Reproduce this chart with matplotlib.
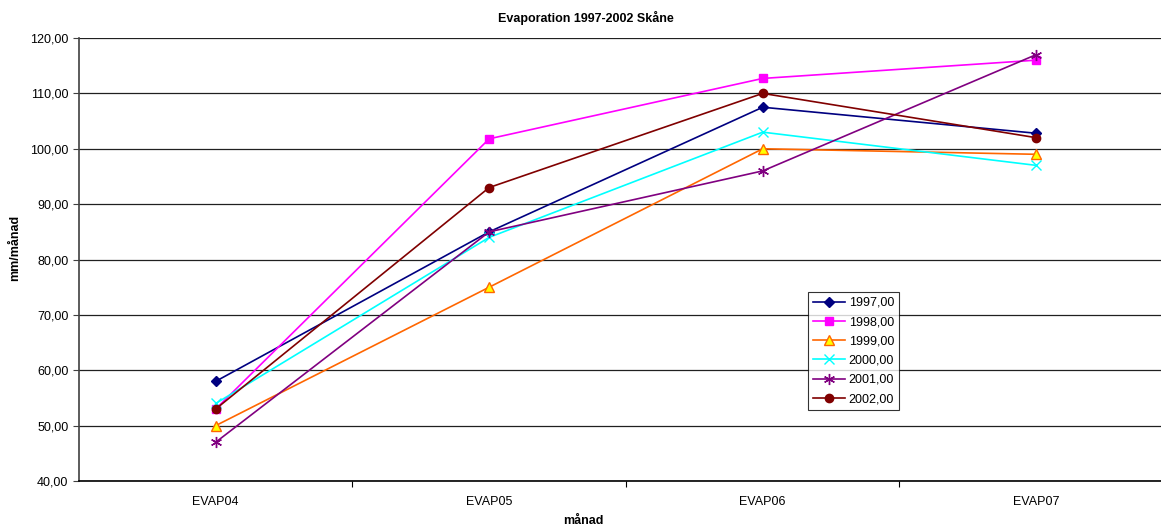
import matplotlib
matplotlib.use("Agg")
import matplotlib.pyplot as plt

plt.rcParams['font.family'] = ['Liberation Sans', 'DejaVu Sans']

months = ['EVAP04', 'EVAP05', 'EVAP06', 'EVAP07']
years = ['1997,00', '1998,00', '1999,00', '2000,00', '2001,00', '2002,00']

evap_1997 = [58.0, 85.0, 107.5, 102.8]
evap_1998 = [53.0, 101.8, 112.7, 116.0]
evap_1999 = [50.0, 75.0, 100.0, 99.0]
evap_2000 = [54.0, 84.0, 103.0, 97.0]
evap_2001 = [47.0, 85.0, 96.0, 117.0]
evap_2002 = [53.0, 93.0, 110.0, 102.0]

series = [evap_1997, evap_1998, evap_1999, evap_2000, evap_2001, evap_2002]

# colour, marker, marker face, size
styles = [
    ('#000080', 'D', '#000080', 5),
    ('#FF00FF', 's', '#FF00FF', 6),
    ('#FF6600', '^', '#FFFF00', 7),
    ('#00FFFF', 'x', '#00FFFF', 7),
    ('#800080', (6, 2, 0), '#800080', 8),
    ('#800000', 'o', '#800000', 6),
]

fig = plt.figure(figsize=(11.61, 5.28), dpi=100)
ax = fig.add_axes([0.068, 0.089, 0.9423, 0.839])

x = range(len(months))
for vals, lab, (c, m, fc, ms) in zip(series, years, styles):
    ax.plot(x, vals, color=c, marker=m, markerfacecolor=fc, markeredgecolor=c,
            markersize=ms, lw=1.2, label=lab, zorder=3)

ax.set_xlim(-0.5, 3.5)
ax.set_ylim(40, 120)
ax.set_yticks(range(40, 121, 10))
ax.set_yticklabels(['%d,00' % v for v in range(40, 121, 10)], fontsize=9)
ax.set_xticks([0.5, 1.5, 2.5])
ax.set_xticklabels([])
ax.set_xticks(list(x), minor=True)
ax.set_xticklabels(months, minor=True, fontsize=9)
ax.tick_params(axis='x', which='minor', length=0, pad=11)
ax.tick_params(axis='x', which='major', length=4, color='black')
ax.tick_params(axis='y', length=4, color='#404040')

ax.grid(axis='y', color='#202020', lw=0.9, zorder=0)
for s in ['top', 'right']:
    ax.spines[s].set_visible(False)
ax.spines['left'].set_color('#404040')
ax.spines['left'].set_linewidth(1.2)
ax.spines['bottom'].set_color('black')
ax.spines['bottom'].set_linewidth(1.2)

fig.text(0.505, 0.966, 'Evaporation 1997-2002 Skåne', ha='center', va='center',
         fontsize=9, fontweight='bold')
fig.text(0.013, 0.53, 'mm/månad', rotation=90, ha='center', va='center',
         fontsize=9, fontweight='bold')
fig.text(0.502, 0.014, 'månad', ha='center', va='center',
         fontsize=9, fontweight='bold')

leg = ax.legend(loc='lower left', bbox_to_anchor=(0.666, 0.16), borderaxespad=0,
                fontsize=9, frameon=True, fancybox=False, edgecolor='black',
                handlelength=2.6, handletextpad=0.3, labelspacing=0.58,
                borderpad=0.4)
leg.get_frame().set_linewidth(0.8)

fig.savefig('out.png', dpi=100)
